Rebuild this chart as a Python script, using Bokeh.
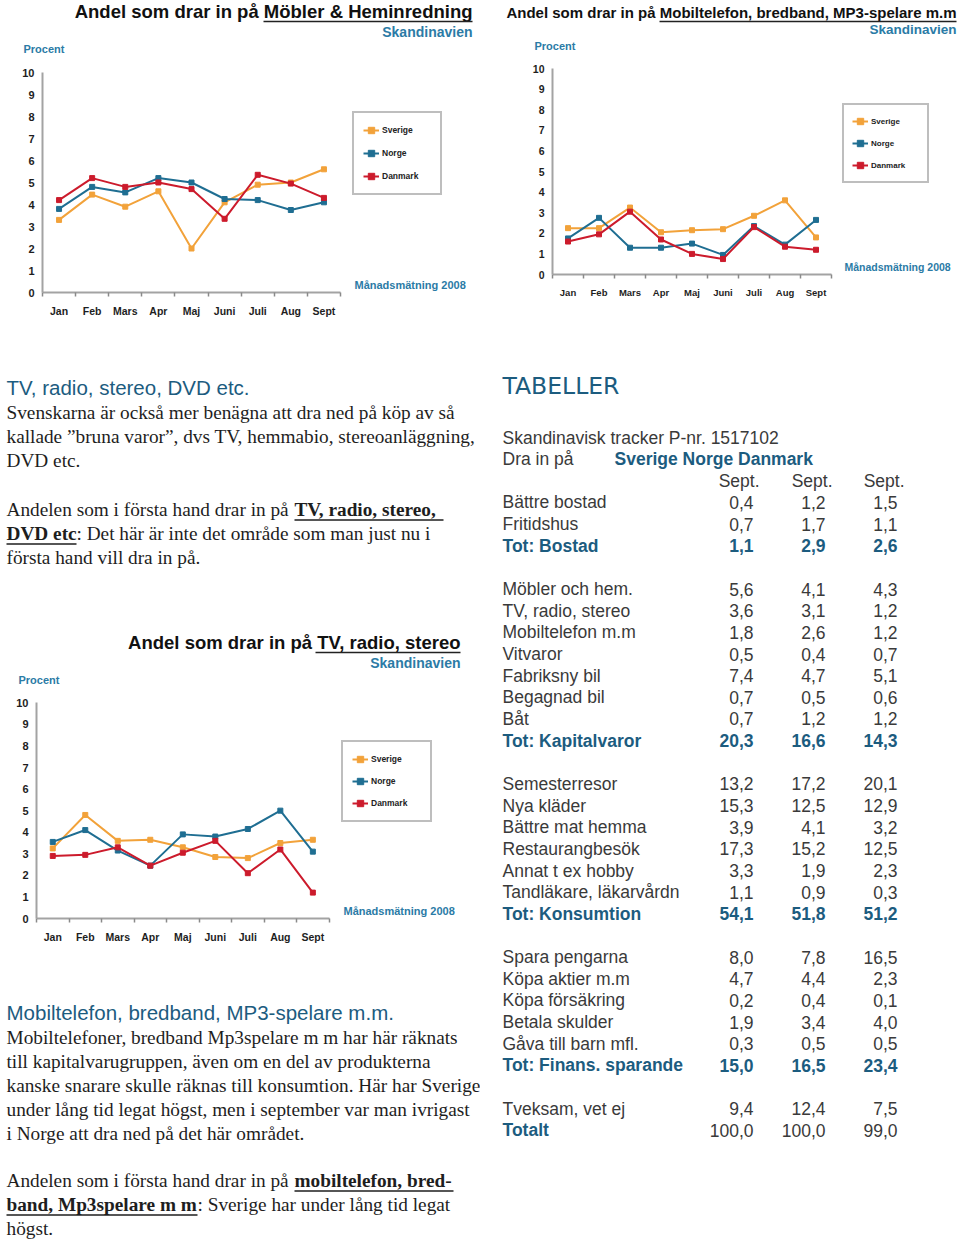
from bokeh.plotting import figure
from bokeh.models import Range1d, FixedTicker, Label, Legend, LegendItem
from bokeh.layouts import row, column
from bokeh.core.properties import value
from bokeh.embed import file_html
from bokeh.resources import INLINE

SANS = "Liberation Sans"
SERIF = "Liberation Serif"

# ---------------- data ----------------
months = ["Jan", "Feb", "Mars", "Apr", "Maj", "Juni", "Juli", "Aug", "Sept"]
countries = ["Sverige", "Norge", "Danmark"]

mob_se = [3.3, 4.45, 3.9, 4.6, 2.0, 4.1, 4.9, 5.0, 5.6]
mob_no = [3.8, 4.8, 4.55, 5.2, 5.0, 4.25, 4.2, 3.75, 4.1]
mob_dk = [4.2, 5.2, 4.8, 5.0, 4.7, 3.35, 5.35, 4.95, 4.3]

tel_se = [2.25, 2.25, 3.25, 2.05, 2.15, 2.2, 2.85, 3.6, 1.8]
tel_no = [1.75, 2.75, 1.3, 1.3, 1.5, 0.95, 2.35, 1.45, 2.65]
tel_dk = [1.6, 1.95, 3.05, 1.7, 1.0, 0.75, 2.3, 1.35, 1.2]

tv_se = [3.25, 4.8, 3.6, 3.65, 3.3, 2.85, 2.8, 3.5, 3.65]
tv_no = [3.55, 4.1, 3.15, 2.45, 3.9, 3.8, 4.15, 5.0, 3.1]
tv_dk = [2.9, 2.95, 3.3, 2.45, 3.05, 3.6, 2.1, 3.2, 1.2]

tab_labels = ["Bättre bostad", "Fritidshus", "Tot: Bostad", "",
              "Möbler och hem.", "TV, radio, stereo", "Mobiltelefon m.m", "Vitvaror",
              "Fabriksny bil", "Begagnad bil", "Båt", "Tot: Kapitalvaror", "",
              "Semesterresor", "Nya kläder", "Bättre mat hemma", "Restaurangbesök",
              "Annat t ex hobby", "Tandläkare, läkarvårdn", "Tot: Konsumtion", "",
              "Spara pengarna", "Köpa aktier m.m", "Köpa försäkring", "Betala skulder",
              "Gåva till barn mfl.", "Tot: Finans. sparande", "",
              "Tveksam, vet ej", "Totalt"]
tab_se = [0.4, 0.7, 1.1, None, 5.6, 3.6, 1.8, 0.5, 7.4, 0.7, 0.7, 20.3, None,
          13.2, 15.3, 3.9, 17.3, 3.3, 1.1, 54.1, None,
          8.0, 4.7, 0.2, 1.9, 0.3, 15.0, None, 9.4, 100.0]
tab_no = [1.2, 1.7, 2.9, None, 4.1, 3.1, 2.6, 0.4, 4.7, 0.5, 1.2, 16.6, None,
          17.2, 12.5, 4.1, 15.2, 1.9, 0.9, 51.8, None,
          7.8, 4.4, 0.4, 3.4, 0.5, 16.5, None, 12.4, 100.0]
tab_dk = [1.5, 1.1, 2.6, None, 4.3, 1.2, 1.2, 0.7, 5.1, 0.6, 1.2, 14.3, None,
          20.1, 12.9, 3.2, 12.5, 2.3, 0.3, 51.2, None,
          16.5, 2.3, 0.1, 4.0, 0.5, 23.4, None, 7.5, 99.0]
tab_header = "Sept."

# ---------------- styles ----------------
C_SE, C_NO, C_DK = "#f2a23a", "#1f6e92", "#cc1b2c"
TEAL = "#1c5c7f"
TEAL_C = "#2b7ba6"
AX = "#a3a3a3"
TXT = "#1e1e1e"


def no_align(p):
    if "frame_align" in p.properties():
        p.frame_align = False
    return p


def make_chart(cfg, se, no, dk):
    W, H = cfg["W"], cfg["H"]
    fl, fb = cfg["fl"], cfg["fb"]
    cw = cfg["cat_w"]
    y0p, y10p, ftp = cfg["ypix"]  # page y of value 0, value 10, frame top
    n = len(months)
    xs = list(range(n))
    x_end = -0.5 + (W - fl) / cw
    y_top = 10.0 * (y0p - ftp) / (y0p - y10p)
    p = figure(width=W, height=H, x_range=Range1d(-0.5, x_end),
               y_range=Range1d(0, y_top), output_backend="svg", toolbar_location=None,
               min_border_left=fl, min_border_right=0,
               min_border_top=0, min_border_bottom=fb)
    no_align(p)
    p.outline_line_color = None
    p.grid.visible = False
    p.background_fill_color = "white"
    p.border_fill_color = "white"

    xa = p.xaxis[0]
    xa.ticker = FixedTicker(ticks=xs, minor_ticks=[i - 0.5 for i in range(n + 1)])
    xa.major_label_overrides = {i: m for i, m in enumerate(months)}
    xa.bounds = (-0.5, n - 0.5)
    xa.major_tick_line_color = None
    xa.major_tick_out = 0
    xa.minor_tick_out = 4
    xa.minor_tick_in = 0
    xa.minor_tick_line_color = "#8a8a8a"
    xa.minor_tick_line_width = 1.5
    xa.major_label_text_font_size = cfg["tick_x"]
    ya = p.yaxis[0]
    ya.ticker = FixedTicker(ticks=list(range(11)))
    ya.bounds = (0, 10)
    ya.major_tick_line_color = None
    ya.minor_tick_line_color = None
    ya.major_tick_out = 0
    ya.major_label_text_font_size = cfg["tick_y"]
    for a in (xa, ya):
        a.axis_line_color = AX
        a.axis_line_width = 2
        a.major_label_text_font = SANS
        a.major_label_text_font_style = "bold"
        a.major_label_text_color = TXT
        a.major_label_standoff = 8

    rends = []
    for ys, col in ((se, C_SE), (no, C_NO), (dk, C_DK)):
        l = p.line(xs, ys, line_color=col, line_width=2)
        s = p.scatter(xs, ys, marker="square", size=5, fill_color=col, line_color=col)
        rends.append([l, s])

    # "Månadsmätning 2008" just right of the axis end
    mx, ms = cfg["mm"]
    p.add_layout(Label(x=-0.5 + (mx - cfg["fpx"]) / cw, y=0.05,
                       text="Månadsmätning 2008", text_font=SANS, text_font_style="bold",
                       text_font_size=ms, text_color=TEAL_C,
                       text_align="left", text_baseline="bottom"))

    lx, ly, lpad, lsp, lw = cfg["leg"]
    items = [LegendItem(label=c, renderers=r) for c, r in zip(countries, rends)]
    leg = Legend(items=items, location=(lx - cfg["fpx"], y0p - ly), padding=lpad, spacing=lsp,
                 glyph_width=16, glyph_height=16, label_height=16, label_width=lw,
                 label_standoff=3, label_text_font=SANS, label_text_font_style="bold",
                 label_text_font_size=cfg["legfs"], label_text_color="#222222",
                 border_line_color="#7d7d7d", border_line_width=2,
                 background_fill_color="white", background_fill_alpha=1, margin=0)
    p.add_layout(leg)
    return p


def text_fig(W, H):
    p = figure(width=W, height=H, x_range=Range1d(0, W), y_range=Range1d(H, 0),
               x_axis_type=None, y_axis_type=None, output_backend="svg",
               toolbar_location=None, min_border=0)
    no_align(p)
    p.outline_line_color = None
    p.background_fill_color = "white"
    p.border_fill_color = "white"
    return p


def put(p, xs, ys, texts, font, size, color, style="normal", align="left"):
    # ys are wanted baselines; the renderer puts the alphabetic baseline ~0.4em lower
    fs = float(size.replace("px", ""))
    ys = [y - 0.4 * fs for y in ys]
    p.text(x=xs, y=ys, text=texts, text_font=value(font), text_font_size=value(size),
           text_color=color, text_font_style=style, text_align=align,
           text_baseline="alphabetic")


def header(W, H, title, tsize, tpos, ul, sk, pr):
    h = text_fig(W, H)
    put(h, [tpos[0]], [tpos[1]], [title], SANS, tsize, "#111111", "bold", "right")
    h.segment(x0=[ul[0]], y0=[ul[2]], x1=[ul[1]], y1=[ul[2]], line_color="#222222", line_width=1.6)
    put(h, [sk[0]], [sk[1]], ["Skandinavien"], SANS, sk[2], TEAL_C, "bold", "right")
    put(h, [pr[0]], [pr[1]], ["Procent"], SANS, "11px", TEAL_C, "bold")
    return h


# ---------------- charts ----------------
h1 = header(480, 58, "Andel som drar in på Möbler & Heminredning", "18.5px",
            (472, 18.5), (263, 472, 21), (472, 37, "14px"), (23, 53))
c1 = make_chart(dict(W=480, H=282, fl=42, fpx=42, fb=48, cat_w=298 / 9,
                     ypix=(292, 72, 58), mm=(354, "11px"), leg=(352, 195, 9, 7, 49),
                     tick_x="10.5px", tick_y="11px", legfs="8.5px"),
                mob_se, mob_no, mob_dk)

h2 = header(480, 54, "Andel som drar in på Mobiltelefon, bredband, MP3-spelare m.m", "15px",
            (476, 17.5), (179, 476, 21), (476, 34.5, "13.5px"), (54, 49.5))
c2 = make_chart(dict(W=480, H=286, fl=72, fpx=552, fb=66, cat_w=279 / 9,
                     ypix=(274, 68, 54), mm=(844, "10.5px"), leg=(842, 183, 8, 6, 48),
                     tick_x="9.5px", tick_y="10.5px", legfs="8px"),
                tel_se, tel_no, tel_dk)

h3 = header(480, 86, "Andel som drar in på TV, radio, stereo", "18.5px",
            (460, 49.3), (315, 460, 52), (460, 68.3, "14px"), (18, 84))
c3 = make_chart(dict(W=480, H=264, fl=36, fpx=36, fb=32, cat_w=292.6 / 9,
                     ypix=(918, 702.3, 686), mm=(343, "11px"), leg=(341, 822, 9, 6, 50),
                     tick_x="10.5px", tick_y="11px", legfs="8.5px"),
                tv_se, tv_no, tv_dk)

PS = "19.3px"
# ---------------- text block 1 ----------------
t1 = text_fig(480, 260)
put(t1, [6], [55], ["TV, radio, stereo, DVD etc."], SANS, "20.5px", TEAL)
put(t1, [6, 6, 6, 6, 76, 6], [80, 104, 128, 177, 201, 225],
    ["Svenskarna är också mer benägna att dra ned på köp av så",
     "kallade ”bruna varor”, dvs TV, hemmabio, stereoanläggning,",
     "DVD etc.",
     "Andelen som i första hand drar in på",
     ": Det här är inte det område som man just nu i",
     "första hand vill dra in på."], SERIF, PS, TXT)
put(t1, [294, 6], [177, 201], ["TV, radio, stereo,", "DVD etc"], SERIF, PS, TXT, "bold")
t1.segment(x0=[294, 6], y0=[179.5, 203.5], x1=[443, 76], y1=[179.5, 203.5],
           line_color=TXT, line_width=1.3)

# ---------------- text block 2 ----------------
t2 = text_fig(480, 291)
put(t2, [6], [70], ["Mobiltelefon, bredband, MP3-spelare m.m."], SANS, "20.5px", TEAL)
put(t2, [6, 6, 6, 6, 6, 6, 197, 6], [95, 119, 143, 167, 191, 238, 262, 286],
    ["Mobiltelefoner, bredband Mp3spelare m m har här räknats",
     "till kapitalvarugruppen, även om en del av produkterna",
     "kanske snarare skulle räknas till konsumtion. Här har Sverige",
     "under lång tid legat högst, men i september var man ivrigast",
     "i Norge att dra ned på det här området.",
     "Andelen som i första hand drar in på",
     ": Sverige har under lång tid legat",
     "högst."], SERIF, PS, TXT)
put(t2, [294, 6], [238, 262], ["mobiltelefon, bred-", "band, Mp3spelare m m"],
    SERIF, PS, TXT, "bold")
t2.segment(x0=[294, 6], y0=[240.5, 264.5], x1=[453, 197], y1=[240.5, 264.5],
           line_color=TXT, line_width=1.3)

# ---------------- table ----------------
tb = text_fig(480, 901)
GRAY = "#3a3a3a"
TS = "17.5px"
put(tb, [22], [55], ["TABELLER"], "DejaVu Sans", "23.5px", TEAL)
ROW0, PITCH = 104, 21.65
put(tb, [22, 22], [ROW0, ROW0 + PITCH], ["Skandinavisk tracker P-nr. 1517102", "Dra in på"],
    SANS, TS, GRAY)
put(tb, [134], [ROW0 + PITCH], [" ".join(countries)], SANS, TS, TEAL, "bold")
put(tb, [279, 352, 424], [ROW0 + 2 * PITCH] * 3, [tab_header] * 3, SANS, TS, GRAY, align="right")

fmt = lambda v: ("%.1f" % v).replace(".", ",")
norm_lab, norm_lab_y, bold_lab, bold_lab_y = [], [], [], []
norm_v, norm_vx, norm_vy, bold_v, bold_vx, bold_vy = [], [], [], [], [], []
for i, lab in enumerate(tab_labels):
    y = ROW0 + (3 + i) * PITCH
    if not lab:
        continue
    if lab.startswith("Tot"):
        bold_lab.append(lab); bold_lab_y.append(y)
    else:
        norm_lab.append(lab); norm_lab_y.append(y)
    for xr, arr in zip((273, 345, 417), (tab_se, tab_no, tab_dk)):
        if lab.startswith("Tot:"):
            bold_v.append(fmt(arr[i])); bold_vx.append(xr); bold_vy.append(y)
        else:
            norm_v.append(fmt(arr[i])); norm_vx.append(xr); norm_vy.append(y)
put(tb, [22] * len(norm_lab), norm_lab_y, norm_lab, SANS, TS, GRAY)
put(tb, [22] * len(bold_lab), bold_lab_y, bold_lab, SANS, TS, TEAL, "bold")
put(tb, norm_vx, norm_vy, norm_v, SANS, TS, GRAY, align="right")
put(tb, bold_vx, bold_vy, bold_v, SANS, TS, TEAL, "bold", align="right")

# ---------------- layout ----------------
page = column(row(column(h1, c1), column(h2, c2)),
              row(column(t1, h3, c3, t2), tb))
open("out.html", "w").write(file_html(page, INLINE))
